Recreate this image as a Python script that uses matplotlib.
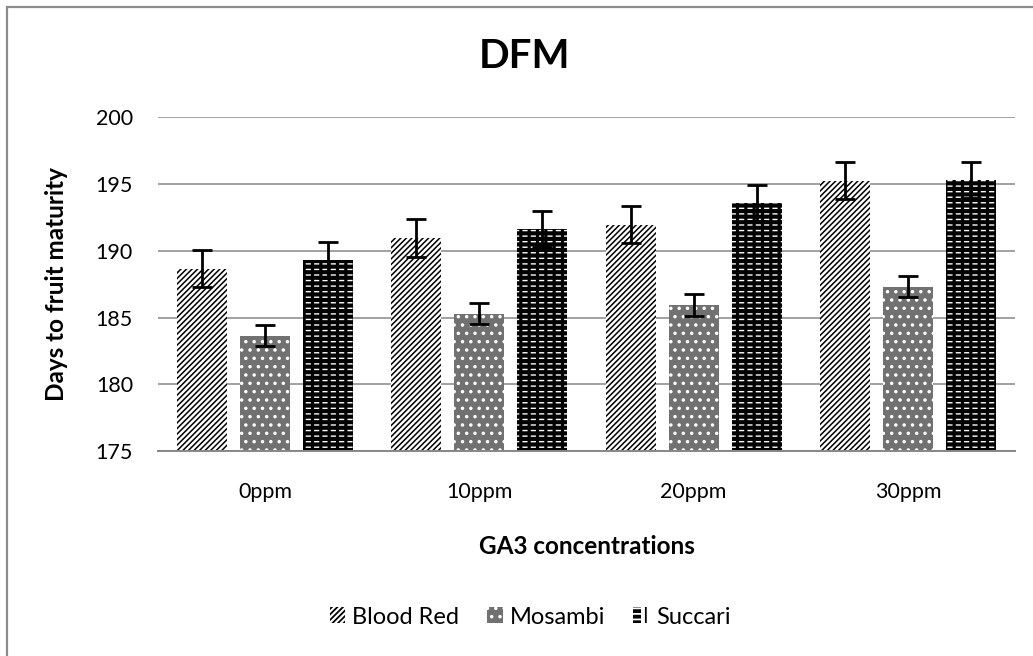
import numpy as np
import matplotlib
matplotlib.use("Agg")
import matplotlib.pyplot as plt
from matplotlib.patches import Rectangle
from matplotlib.legend_handler import HandlerTuple

# data
categories = ["0ppm", "10ppm", "20ppm", "30ppm"]
series = ["Blood Red", "Mosambi", "Succari"]
blood_red = [188.65, 190.95, 191.95, 195.25]
mosambi = [183.65, 185.3, 185.95, 187.3]
succari = [189.3, 191.6, 193.6, 195.3]
blood_red_err = [1.4, 1.4, 1.4, 1.4]
mosambi_err = [0.8, 0.8, 0.8, 0.8]
succari_err = [1.35, 1.35, 1.35, 1.35]

plt.rcParams["font.family"] = ["Lato", "DejaVu Sans"]
plt.rcParams["hatch.linewidth"] = 1.3


def hatch_lw(bars, lw):
    # per-artist hatch line width (matplotlib >= 3.10)
    for p in bars:
        if hasattr(p, "set_hatch_linewidth"):
            p.set_hatch_linewidth(lw)


W, H = 1033, 656
fig = plt.figure(figsize=(W / 100, H / 100), dpi=100)
ax = fig.add_axes([158 / W, 1 - 451 / H, (1015 - 158) / W, (451 - 117.3) / H])

x = np.arange(len(categories))
stride = 0.294
width = 0.233
grid_col = "#878787"

ax.set_ylim(175, 200)
ax.set_xlim(-0.5, len(categories) - 0.5)
ax.set_yticks([175, 180, 185, 190, 195, 200])
ax.yaxis.grid(True, color=grid_col, linewidth=1.1)
ax.set_axisbelow(True)
for s in ["top", "right", "left"]:
    ax.spines[s].set_visible(False)
ax.spines["bottom"].set_color(grid_col)
ax.spines["bottom"].set_linewidth(1.4)
ax.tick_params(axis="both", length=0, labelsize=15.5)
ax.tick_params(axis="y", pad=18)
ax.tick_params(axis="x", pad=22)
ax.set_xticks(x)
ax.set_xticklabels(categories)

err_kw = dict(ecolor="black", elinewidth=2.0, capsize=7, capthick=2.0)

h_br = ax.bar(x - stride, blood_red, width, color="white",
              edgecolor="black", linewidth=0, hatch="//////",
              yerr=blood_red_err, error_kw=err_kw, zorder=2)
h_mo = ax.bar(x, mosambi, width, color="#717171", edgecolor="white",
              linewidth=0, hatch="..", yerr=mosambi_err, error_kw=err_kw, zorder=2)
h_su = ax.bar(x + stride, succari, width, color="black", edgecolor="white",
              linewidth=0, hatch="---", zorder=2)
h_su2 = ax.bar(x + stride, succari, width, color="none", edgecolor="black",
               linewidth=0, hatch="||", yerr=succari_err, error_kw=err_kw, zorder=2.1)
hatch_lw(h_br, 1.1)
hatch_lw(h_su, 1.0)
hatch_lw(h_su2, 2.3)

# outer chart border (only left and top edges visible in the crop)
fig.patches.append(Rectangle((7 / W, -0.05), 1.2, 1 - 7 / H + 0.05,
                             transform=fig.transFigure, fill=False,
                             edgecolor="#8c8c8c", linewidth=1.6))

fig.text(524.7 / W, 1 - 57 / H, "DFM", fontsize=29, fontweight="bold",
         ha="center", va="center")
fig.text(57 / W, 1 - 284 / H, "Days to fruit maturity", fontsize=17.5,
         fontweight="bold", rotation=90, ha="center", va="center")
fig.text(586.5 / W, 1 - 546 / H, "GA3 concentrations", fontsize=17.5,
         fontweight="bold", ha="center", va="center")

leg = fig.legend([h_br[0], h_mo[0], (h_su[0], h_su2[0])], series,
                 loc="center", bbox_to_anchor=(530 / W, 1 - 617 / H), ncol=3,
                 frameon=False, fontsize=17, handlelength=0.65, handleheight=0.65,
                 handletextpad=0.3, columnspacing=1.2,
                 handler_map={tuple: HandlerTuple(ndivide=None, pad=0)})

fig.savefig("out.png", dpi=100)
